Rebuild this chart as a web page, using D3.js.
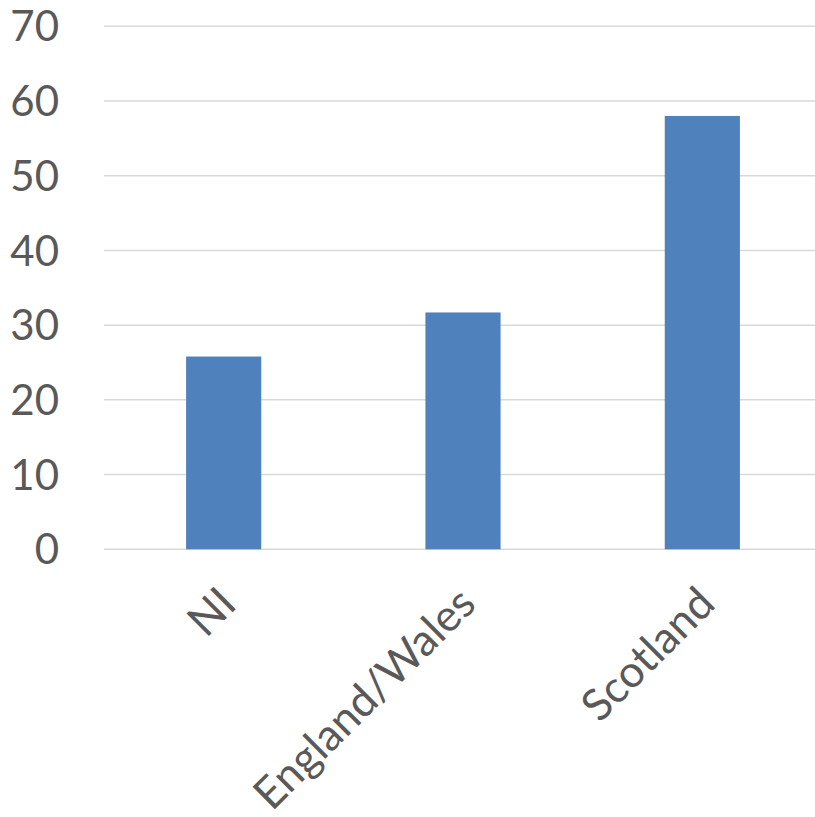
<!DOCTYPE html>
<html>
<head>
<meta charset="utf-8">
<script src="https://cdn.jsdelivr.net/npm/d3@7"></script>
<style>
  html, body { margin: 0; padding: 0; background: #ffffff; }
  svg { display: block; }
  text { font-family: Lato, "Open Sans", sans-serif; fill: #595959; }
</style>
</head>
<body>
<svg id="chart" width="815" height="817"></svg>
<script>
// Regions and their values
const categories = ["NI", "England/Wales", "Scotland"];
const values = [25.8, 31.7, 58];
const yTicks = [0, 10, 20, 30, 40, 50, 60, 70];

const svg = d3.select("#chart");
const plot = { left: 104, right: 822, top: 26.3, bottom: 549.3 };

const x = d3.scaleBand()
  .domain(categories)
  .range([plot.left, plot.right])
  .paddingInner(0.686)
  .paddingOuter(0.343);

const y = d3.scaleLinear()
  .domain([0, 70])
  .range([plot.bottom, plot.top]);

// Horizontal gridlines
svg.append("g")
  .selectAll("line")
  .data(yTicks)
  .join("line")
  .attr("x1", plot.left)
  .attr("x2", 815)
  .attr("y1", d => y(d))
  .attr("y2", d => y(d))
  .attr("stroke", "#d9d9d9")
  .attr("stroke-width", 1.5);

// Y axis labels
svg.append("g")
  .selectAll("text")
  .data(yTicks)
  .join("text")
  .attr("x", 59)
  .attr("y", d => y(d))
  .attr("dy", "0.36em")
  .attr("text-anchor", "end")
  .attr("font-size", 42)
  .text(d => d);

// Bars
svg.append("g")
  .selectAll("rect")
  .data(values)
  .join("rect")
  .attr("x", (d, i) => x(categories[i]))
  .attr("width", x.bandwidth())
  .attr("y", d => y(d))
  .attr("height", d => y(0) - y(d))
  .attr("fill", "#4f81bd");

// Category labels, rotated
svg.append("g")
  .selectAll("text")
  .data(categories)
  .join("text")
  .attr("transform", d => `translate(${x(d) + x.bandwidth() / 2 + 4},${plot.bottom + 46}) rotate(-45)`)
  .attr("dy", "0.35em")
  .attr("text-anchor", "end")
  .attr("font-size", 44)
  .text(d => d);
</script>
</body>
</html>
